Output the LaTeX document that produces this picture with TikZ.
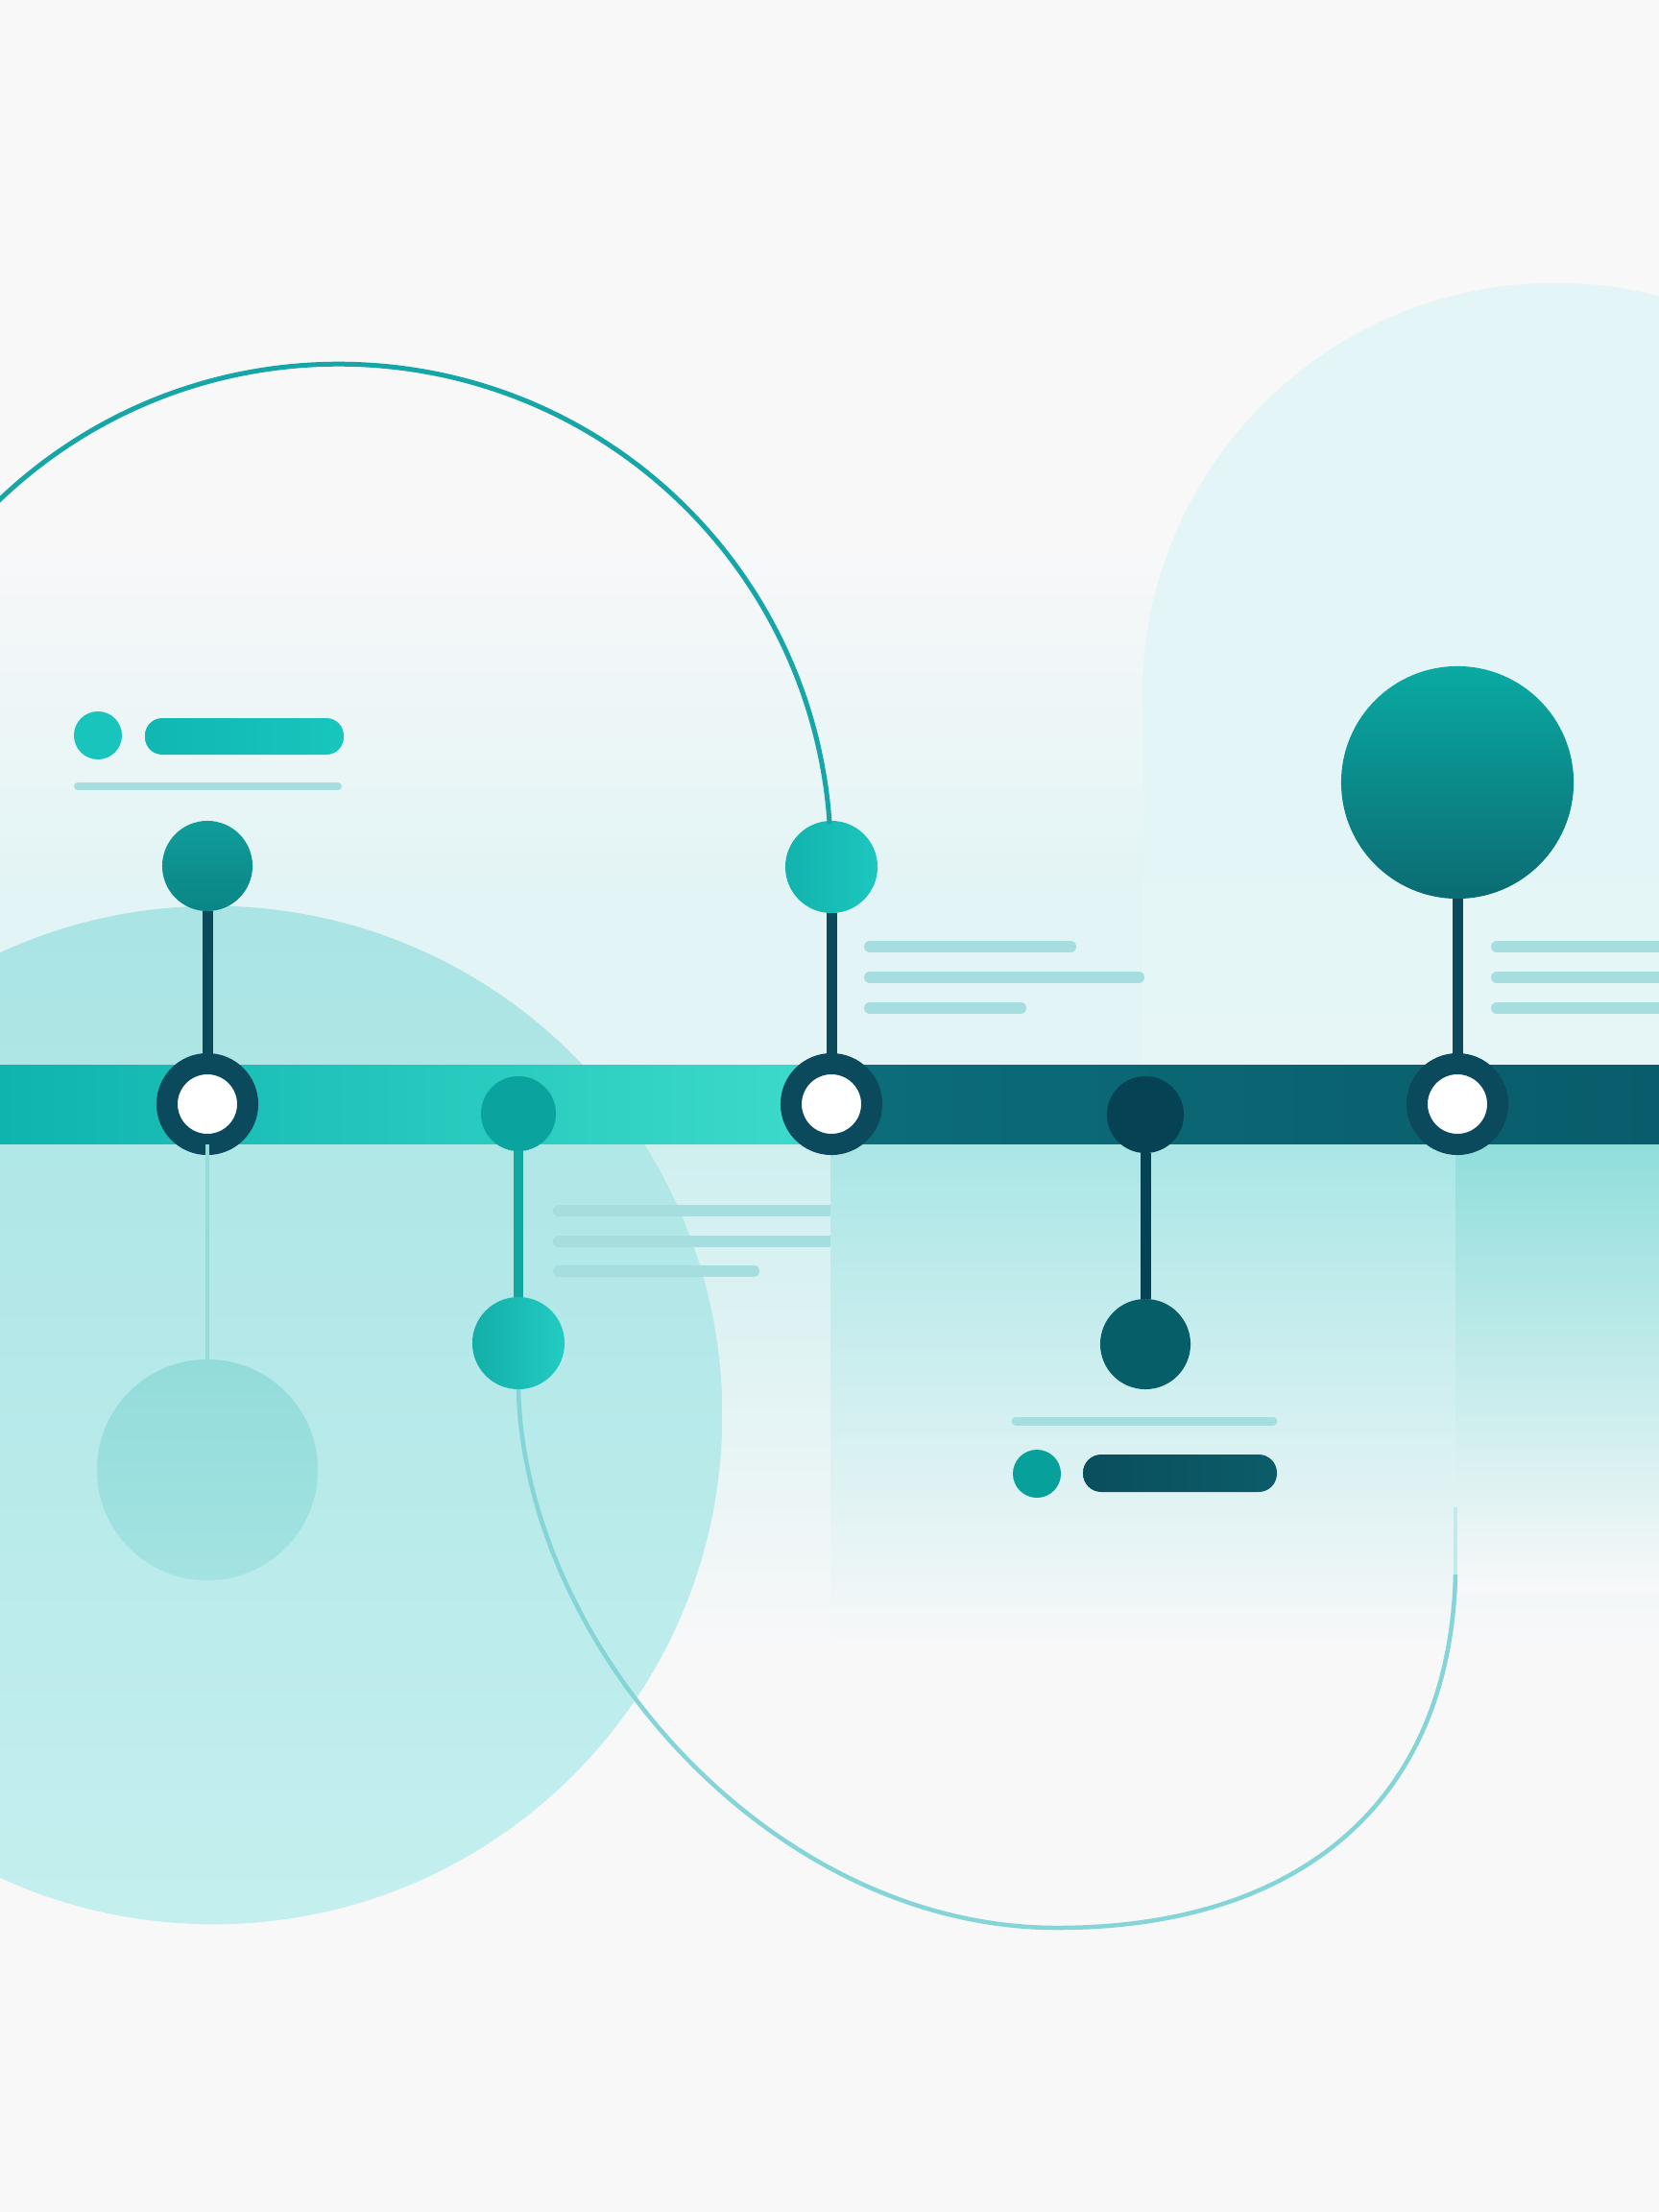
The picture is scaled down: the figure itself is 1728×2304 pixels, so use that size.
\documentclass[tikz,border=0pt]{standalone}
\usetikzlibrary{shapes.geometric}
\definecolor{bgc}{HTML}{F8F8F9}
\definecolor{bandc}{HTML}{E2F4F5}
\definecolor{belowc}{HTML}{CFEFEF}
\definecolor{pillc}{HTML}{E3F5F7}
\definecolor{pillB}{HTML}{E6F6F7}
\definecolor{circA}{HTML}{AAE4E4}
\definecolor{circB}{HTML}{C4EFEF}
\definecolor{paneA}{HTML}{AAE6E6}
\definecolor{paneB}{HTML}{8FDEDC}
\definecolor{darkc}{HTML}{0B4A5C}
\definecolor{txtc}{HTML}{A6DEDF}
\definecolor{arcA}{HTML}{17A6A8}
\definecolor{arcB}{HTML}{84D4D8}
\definecolor{arcC}{HTML}{C2E9EB}
\definecolor{barA}{HTML}{0FB4AF}
\definecolor{barB}{HTML}{3DDBCB}
\definecolor{barC}{HTML}{0C6D7A}
\definecolor{barD}{HTML}{095C6B}
\definecolor{lightdot}{HTML}{93DCDA}
\definecolor{lightdotB}{HTML}{A3E3E2}
\definecolor{tealA}{HTML}{0F9D9A}
\definecolor{tealB}{HTML}{0B8586}
\definecolor{midnode}{HTML}{0BA39E}
\definecolor{midstem}{HTML}{12A8A2}
\definecolor{lowA}{HTML}{13AEA8}
\definecolor{lowB}{HTML}{22CCC3}
\definecolor{topA}{HTML}{12B3AD}
\definecolor{topB}{HTML}{1CC7BE}
\definecolor{darknode}{HTML}{054354}
\definecolor{darklow}{HTML}{065E69}
\definecolor{bigA}{HTML}{0AAAA2}
\definecolor{bigB}{HTML}{0B6B73}
\definecolor{tlA}{HTML}{10B7B3}
\definecolor{tlB}{HTML}{17C6BD}
\definecolor{tldot}{HTML}{18C4BB}
\definecolor{btdot}{HTML}{07A09B}
\definecolor{btA}{HTML}{0A4E5D}
\definecolor{btB}{HTML}{0B5C69}
\begin{document}
\begin{tikzpicture}[x=0.01cm,y=-0.01cm,
  dot/.style={circle, inner sep=0pt, outer sep=0pt, draw=none},
  ringnode/.style={circle, inner sep=0pt, outer sep=0pt, minimum size=0.84cm, draw=darkc, line width=0.22cm, fill=white},
  stemline/.style={draw=darkc, line width=0.11cm},
  txtline/.style={line width=0.12cm, line cap=round, draw=txtc},
  arcline/.style={line width=0.05cm}]
\useasboundingbox (0,0) rectangle (1728,2304);
% background
\fill[bgc] (0,0) rectangle (1728,2304);
\shade[top color=bgc, bottom color=bandc] (0,560) rectangle (1728,930);
\fill[bandc] (0,929) rectangle (1728,1110);
\shade[top color=belowc, bottom color=bgc] (0,1190) rectangle (1728,1720);
% right pill shape
\fill[pillc] (1620,725) circle[radius=4.3cm];
\shade[top color=pillc, bottom color=pillB] (1190,724) rectangle (1728,1110);
% big left circle
\shade[top color=circA, bottom color=circB] (222,1474) circle[radius=5.3cm];
% middle text lines (cut by pane)
\draw[txtline] (582,1261) -- (880,1261);
\draw[txtline] (582,1293) -- (880,1293);
\draw[txtline] (582,1324) -- (785,1324);
% panes below bar
\shade[top color=paneA, bottom color=bgc] (865,1190) rectangle (1516,1720);
\shade[top color=paneB, bottom color=bgc] (1516,1190) rectangle (1728,1660);
% top-left text
\node[dot, minimum size=0.5cm, fill=tldot] (tldot) at (102,766) {};
\shade[left color=tlA, right color=tlB, rounded corners=0.18cm] (151,748) rectangle (358,786);
\draw[txtline, line width=0.08cm] (81,819) -- (352,819);
% text near node c
\draw[txtline] (906,986) -- (1115,986);
\draw[txtline] (906,1018) -- (1186,1018);
\draw[txtline] (906,1050) -- (1063,1050);
% text near node e
\draw[txtline] (1559,986) -- (1740,986);
\draw[txtline] (1559,1018) -- (1740,1018);
\draw[txtline] (1559,1050) -- (1740,1050);
% bottom text
\draw[txtline, line width=0.09cm] (1058,1480) -- (1326,1480);
\node[dot, minimum size=0.5cm, fill=btdot] (btdot) at (1080,1535) {};
\shade[left color=btA, right color=btB, rounded corners=0.19cm] (1128,1515) rectangle (1330,1554);
% timeline bar
\shade[left color=barA, right color=barB] (0,1109) rectangle (866,1191);
\shade[left color=barC, right color=barD] (866,1109) rectangle (1728,1191);
% nodes
\node[dot, minimum size=0.94cm, top color=tealA, bottom color=tealB] (aT) at (216,902) {};
\node[ringnode] (aR) at (216,1150) {};
\node[dot, minimum size=2.30cm, top color=lightdot, bottom color=lightdotB] (aL) at (216,1531) {};
\node[dot, minimum size=0.78cm, fill=midnode] (bB) at (540,1160) {};
\node[dot, minimum size=0.96cm, left color=lowA, right color=lowB] (bL) at (540,1399) {};
\node[dot, minimum size=0.96cm, left color=topA, right color=topB] (cT) at (866,903) {};
\node[ringnode] (cR) at (866,1150) {};
\node[dot, minimum size=0.80cm, fill=darknode] (dB) at (1193,1161) {};
\node[dot, minimum size=0.94cm, fill=darklow] (dL) at (1193,1400) {};
\node[dot, minimum size=2.42cm, top color=bigA, bottom color=bigB] (eT) at (1518,815) {};
\node[ringnode] (eR) at (1518,1150) {};
% stems
\draw[stemline] (aT) -- (aR);
\draw[draw=lightdot, line width=0.04cm] (aR) -- (aL);
\draw[draw=midstem, line width=0.10cm] (bB) -- (bL);
\draw[stemline] (cT) -- (cR);
\draw[stemline, draw=darknode] (dB) -- (dL);
\draw[stemline] (eT) -- (eR);
% arcs
\coordinate (arcstart) at (-3,523);
\draw[arcline, draw=arcA] (arcstart) arc[start angle=134, end angle=4, radius=5.12cm] -- (cT.north);
\coordinate (arcmid) at (1516,1640);
\coordinate (arcend) at (1516,1570);
\draw[arcline, draw=arcC, line width=0.045cm] (1516,1660) -- (arcend);
\draw[arcline, draw=arcB, line width=0.045cm] (bL.south) .. controls (546,1710) and (800,2008) .. (1101,2008) .. controls (1350,2008) and (1510,1880) .. (arcmid);
\end{tikzpicture}
\end{document}
